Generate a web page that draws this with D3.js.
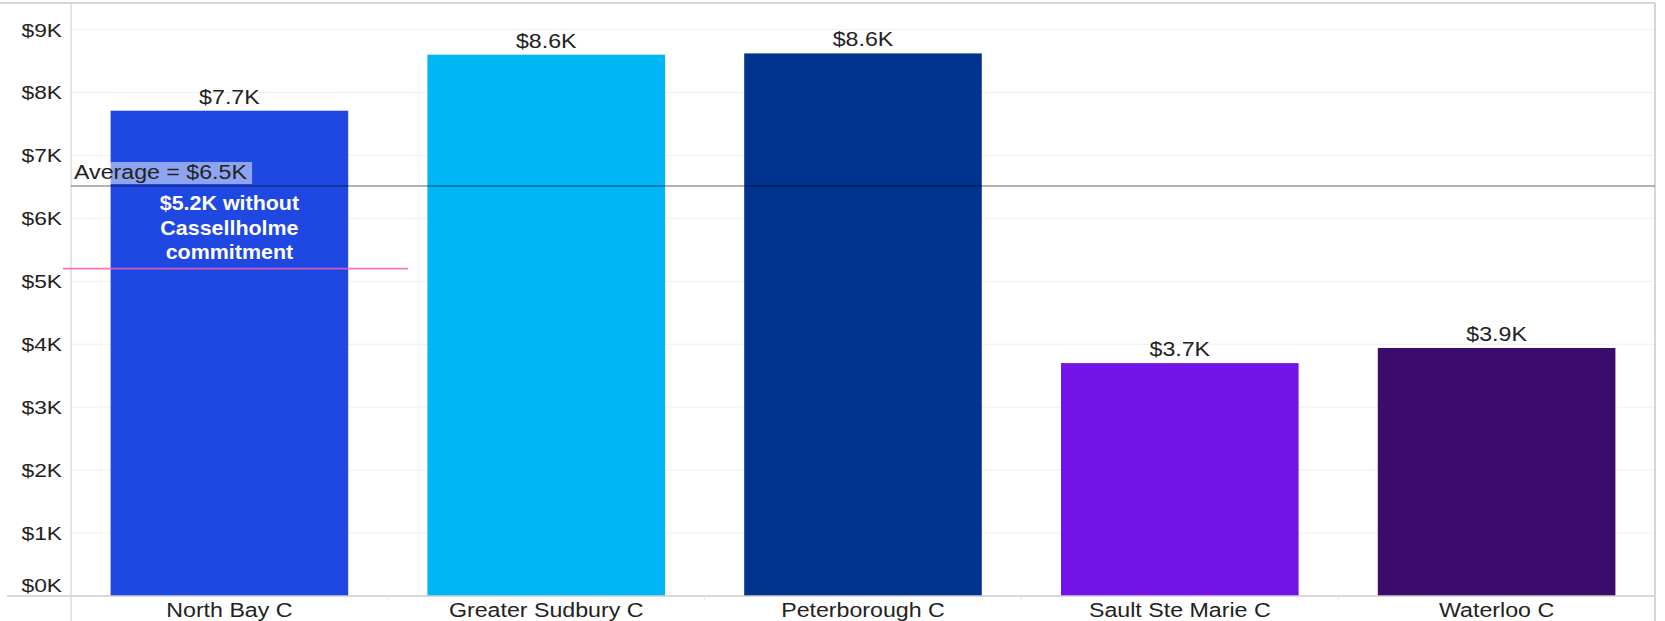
<!DOCTYPE html>
<html>
<head>
<meta charset="utf-8">
<script src="https://cdn.jsdelivr.net/npm/d3@7"></script>
<style>
  html, body { margin: 0; padding: 0; background: #fff; }
  svg { display: block; font-family: "Liberation Sans", Arial, sans-serif; }
</style>
</head>
<body>
<svg id="chart" width="1665" height="621"></svg>
<script>
// Spending per municipality (dollars)
const categories = ["North Bay C", "Greater Sudbury C", "Peterborough C", "Sault Ste Marie C", "Waterloo C"];
const values = [7710, 8600, 8620, 3700, 3940];
const barColors = ["#1f48e2", "#00b6f5", "#00338d", "#7213e8", "#3c0b6e"];
const yTicks = [0, 1000, 2000, 3000, 4000, 5000, 6000, 7000, 8000, 9000];

// North Bay figure excluding the Cassellholme commitment
const adjustedValue = 5200;
const adjustedNote = ["$5.2K without", "Cassellholme", "commitment"];

const svg = d3.select("#chart");
const plotLeft = 71, plotRight = 1655, plotTop = 3, baseY = 596;
const stretch = 1.16;

const x = d3.scaleBand()
  .domain(categories)
  .range([plotLeft, plotRight])
  .paddingInner(0.25)
  .paddingOuter(0.125);

const y = d3.scaleLinear()
  .domain([0, 9000])
  .range([baseY, 29.5]);

const kFmt = v => "$" + d3.format(".1f")(v / 1000) + "K";
const tickFmt = v => "$" + (v / 1000) + "K";

// horizontally widened text, matching the report's font rendering
function label(g, tx, ty, text, opts = {}) {
  return g.append("text")
    .attr("transform", `translate(${tx},${ty}) scale(${opts.sx || stretch},1)`)
    .attr("text-anchor", opts.anchor || "middle")
    .attr("font-size", opts.size || 20)
    .attr("font-weight", opts.weight || "normal")
    .attr("fill", opts.fill || "#222")
    .text(text);
}

// gridlines
svg.append("g")
  .selectAll("line")
  .data(yTicks.filter(d => d > 0))
  .join("line")
  .attr("x1", plotLeft).attr("x2", plotRight)
  .attr("y1", d => y(d)).attr("y2", d => y(d))
  .attr("stroke", "#efefef")
  .attr("stroke-width", 1);

// frame
svg.append("line").attr("x1", 0).attr("x2", plotRight).attr("y1", plotTop).attr("y2", plotTop)
  .attr("stroke", "#c8c8c8").attr("stroke-width", 1.5);
svg.append("line").attr("x1", plotRight).attr("x2", plotRight).attr("y1", plotTop).attr("y2", 621)
  .attr("stroke", "#c8c8c8").attr("stroke-width", 1.5);

// bars
svg.append("g")
  .selectAll("rect")
  .data(values)
  .join("rect")
  .attr("x", (d, i) => x(categories[i]))
  .attr("width", x.bandwidth())
  .attr("y", d => y(d))
  .attr("height", d => baseY - y(d))
  .attr("fill", (d, i) => barColors[i]);

// value labels
const vl = svg.append("g");
values.forEach((v, i) => {
  label(vl, x(categories[i]) + x.bandwidth() / 2, y(v) - 7, kFmt(v), { size: 20 });
});

// y axis (the zero label is lifted to sit above the baseline)
const yAxis = svg.append("g")
  .attr("transform", `translate(${plotLeft},0)`)
  .call(d3.axisLeft(y).tickValues(yTicks).tickFormat(tickFmt).tickSize(0).tickPadding(0));
yAxis.select(".domain").remove();
yAxis.selectAll("text")
  .attr("x", 0).attr("dy", null)
  .attr("font-size", 19)
  .attr("fill", "#222")
  .attr("font-family", "Liberation Sans, Arial, sans-serif")
  .attr("transform", d => `translate(-9,${d === 0 ? -5 : 6.5}) scale(1.2,1)`)
  .attr("text-anchor", "end");
svg.append("line").attr("x1", plotLeft).attr("x2", plotLeft).attr("y1", plotTop).attr("y2", 621)
  .attr("stroke", "#dcdcdc").attr("stroke-width", 1.5);

// x axis
const xAxis = svg.append("g")
  .attr("transform", `translate(0,${baseY})`)
  .call(d3.axisBottom(x).tickSize(0).tickPadding(0));
xAxis.select(".domain").remove();
xAxis.selectAll("text")
  .attr("y", 0).attr("dy", null)
  .attr("font-size", 20)
  .attr("fill", "#222")
  .attr("font-family", "Liberation Sans, Arial, sans-serif")
  .attr("transform", `translate(0,21) scale(${stretch},1)`);
svg.append("line").attr("x1", 7).attr("x2", plotRight).attr("y1", baseY).attr("y2", baseY)
  .attr("stroke", "#cccccc").attr("stroke-width", 1.5);
// category separators
svg.append("g")
  .selectAll("line")
  .data(categories.slice(1))
  .join("line")
  .attr("x1", d => x(d) - x.step() * x.paddingInner() / 2)
  .attr("x2", d => x(d) - x.step() * x.paddingInner() / 2)
  .attr("y1", baseY).attr("y2", baseY + 4)
  .attr("stroke", "#e6e6e6");

// average reference line
const avg = d3.mean(values);
const ay = y(avg);
svg.append("line")
  .attr("x1", plotLeft).attr("x2", plotRight)
  .attr("y1", ay).attr("y2", ay)
  .attr("stroke", "#000").attr("stroke-opacity", 0.4).attr("stroke-width", 1.6);

const ag = svg.append("g");
const avgText = "Average = " + kFmt(avg);
const tmp = ag.append("text").attr("font-size", 20).text(avgText);
const tw = tmp.node().getComputedTextLength() * stretch;
tmp.remove();
ag.append("rect")
  .attr("x", plotLeft + 1).attr("y", ay - 24)
  .attr("width", tw + 7).attr("height", 22)
  .attr("fill", "#fff").attr("fill-opacity", 0.5);
label(ag, plotLeft + 3, ay - 6.5, avgText, { anchor: "start", size: 20 });

// adjusted-value annotation
const ny = y(adjustedValue);
svg.append("line")
  .attr("x1", 63).attr("x2", 408)
  .attr("y1", ny).attr("y2", ny)
  .attr("stroke", "#f060b4").attr("stroke-opacity", 0.85).attr("stroke-width", 1.8);
const ng = svg.append("g");
const cx0 = x(categories[0]) + x.bandwidth() / 2;
adjustedNote.forEach((t, i) => {
  label(ng, cx0, ay + 24.5 + i * 24.5, t, { size: 19.5, weight: "bold", fill: "#fff", sx: 1.1 });
});
</script>
</body>
</html>
